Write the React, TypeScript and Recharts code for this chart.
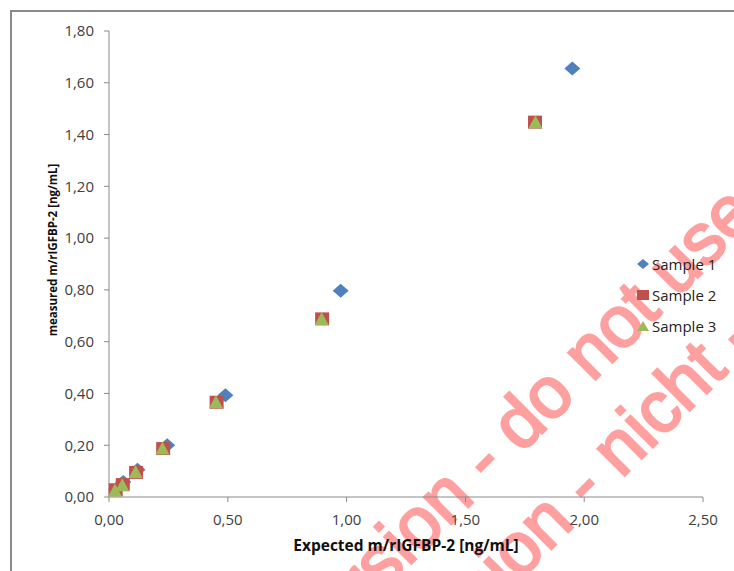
import React from "react";
import { ScatterChart, Scatter, XAxis, YAxis, Legend } from "recharts";

// expected vs measured, one array per series
const sample1X = [0.03, 0.06, 0.12, 0.245, 0.49, 0.975, 1.95];
const sample1Y = [0.03, 0.058, 0.105, 0.2, 0.393, 0.797, 1.655];
const sample2X = [0.028, 0.058, 0.114, 0.228, 0.453, 0.897, 1.793];
const sample2Y = [0.028, 0.048, 0.095, 0.187, 0.366, 0.688, 1.448];
const sample3X = [0.025, 0.056, 0.112, 0.225, 0.45, 0.895, 1.795];
const sample3Y = [0.025, 0.045, 0.097, 0.187, 0.366, 0.688, 1.448];

const seriesNames = ["Sample 1", "Sample 2", "Sample 3"];
const xTicks = [0, 0.5, 1, 1.5, 2, 2.5];
const yTicks = [0, 0.2, 0.4, 0.6, 0.8, 1, 1.2, 1.4, 1.6, 1.8];
const xTitle = "Expected m/rIGFBP-2 [ng/mL]";
const yTitle = "measured m/rIGFBP-2 [ng/mL]";

const BLUE = "#4F81BD";
const RED = "#C0504D";
const GREEN = "#9BBB59";
const AXIS = "#8a8a8a";
const WM = "#ffa0a0";
const FONT = "'Open Sans', 'Noto Sans', sans-serif";

const toPoints = (xs: number[], ys: number[]) => xs.map((x, i) => ({ x, y: ys[i] }));
const fmt = (v: number) => v.toFixed(2).replace(".", ",");

const Diamond = (p: any) => (
  <path
    d={`M${p.cx},${p.cy - 7}L${p.cx + 8},${p.cy}L${p.cx},${p.cy + 7}L${p.cx - 8},${p.cy}Z`}
    fill={BLUE}
  />
);
const Square = (p: any) => <rect x={p.cx - 7} y={p.cy - 6.5} width={14} height={13} fill={RED} />;
const Triangle = (p: any) => (
  <path d={`M${p.cx},${p.cy - 7}L${p.cx + 7},${p.cy + 6}L${p.cx - 7},${p.cy + 6}Z`} fill={GREEN} />
);

const legendMarks = [
  <path key="d" d="M6,0L12,5L6,10L0,5Z" fill={BLUE} />,
  <rect key="s" x={0} y={0} width={12} height={10} fill={RED} />,
  <path key="t" d="M6,0L12,10L0,10Z" fill={GREEN} />,
];

const renderLegend = () => (
  <div style={{ fontFamily: FONT, fontSize: 15, color: "#222" }}>
    {seriesNames.map((name, i) => (
      <div key={name} style={{ display: "flex", alignItems: "center", height: 31 }}>
        <svg width={12} height={10} style={{ marginRight: 3 }}>
          {legendMarks[i]}
        </svg>
        <span>{name}</span>
      </div>
    ))}
  </div>
);

const YTitle = ({ viewBox }: any) => {
  const x = viewBox.x + 3;
  const y = viewBox.y + viewBox.height / 2 - 14;
  return (
    <text
      x={x}
      y={y}
      transform={`rotate(-90, ${x}, ${y})`}
      textAnchor="middle"
      dominantBaseline="central"
      fontFamily={FONT}
      fontSize={11.5}
      fontWeight="bold"
      fill="#111"
    >
      {yTitle}
    </text>
  );
};

const Watermark = () => (
  <svg width={734} height={571} style={{ position: "absolute", left: 0, top: 0 }}>
    <g
      transform="rotate(-45)"
      fill={WM}
      stroke={WM}
      strokeWidth={2.5}
      fontFamily="'Liberation Sans', Arial, sans-serif"
      fontSize={72}
    >
      <text x={27.6} y={689.5} textAnchor="end">Testversion -</text>
      <text x={47.6} y={689.5}>do not use</text>
      <text x={80.6} y={778} textAnchor="end">Testversion -</text>
      <text x={100.6} y={778}>nicht - verwenden</text>
    </g>
  </svg>
);

const App: React.FC = () => {
  return (
    <div
      style={{
        position: "absolute",
        left: 0,
        top: 0,
        width: 734,
        height: 571,
        overflow: "hidden",
        background: "#fff",
      }}
    >
      <Watermark />
      <div
        style={{
          position: "absolute",
          left: 10,
          top: 10,
          width: 800,
          height: 700,
          borderLeft: `2px solid ${AXIS}`,
          borderTop: `2px solid ${AXIS}`,
        }}
      />
      <div style={{ position: "absolute", left: 0, top: 0 }}>
        <ScatterChart width={734} height={571} margin={{ top: 31, right: 31, bottom: 44, left: 49 }}>
          <XAxis
            type="number"
            dataKey="x"
            domain={[0, 2.5]}
            ticks={xTicks}
            interval={0}
            tickFormatter={fmt}
            stroke={AXIS}
            tickSize={5}
            tickMargin={12}
            height={30}
            tick={{ fill: "#404040", fontSize: 15, fontFamily: FONT }}
            label={{
              value: xTitle,
              position: "bottom",
              offset: 13,
              fill: "#111",
              fontSize: 15.5,
              fontWeight: "bold",
              fontFamily: FONT,
            }}
          />
          <YAxis
            type="number"
            dataKey="y"
            domain={[0, 1.8]}
            ticks={yTicks}
            interval={0}
            tickFormatter={fmt}
            stroke={AXIS}
            tickSize={5}
            tickMargin={10}
            width={60}
            tick={{ fill: "#404040", fontSize: 15, fontFamily: FONT }}
            label={<YTitle />}
          />
          <Legend
            layout="vertical"
            align="center"
            verticalAlign="middle"
            content={renderLegend}
            wrapperStyle={{ left: 637, top: 248, width: 100, height: 93 }}
          />
          <Scatter name={seriesNames[0]} data={toPoints(sample1X, sample1Y)} shape={Diamond} isAnimationActive={false} />
          <Scatter name={seriesNames[1]} data={toPoints(sample2X, sample2Y)} shape={Square} isAnimationActive={false} />
          <Scatter name={seriesNames[2]} data={toPoints(sample3X, sample3Y)} shape={Triangle} isAnimationActive={false} />
        </ScatterChart>
      </div>
    </div>
  );
};

export default App;
